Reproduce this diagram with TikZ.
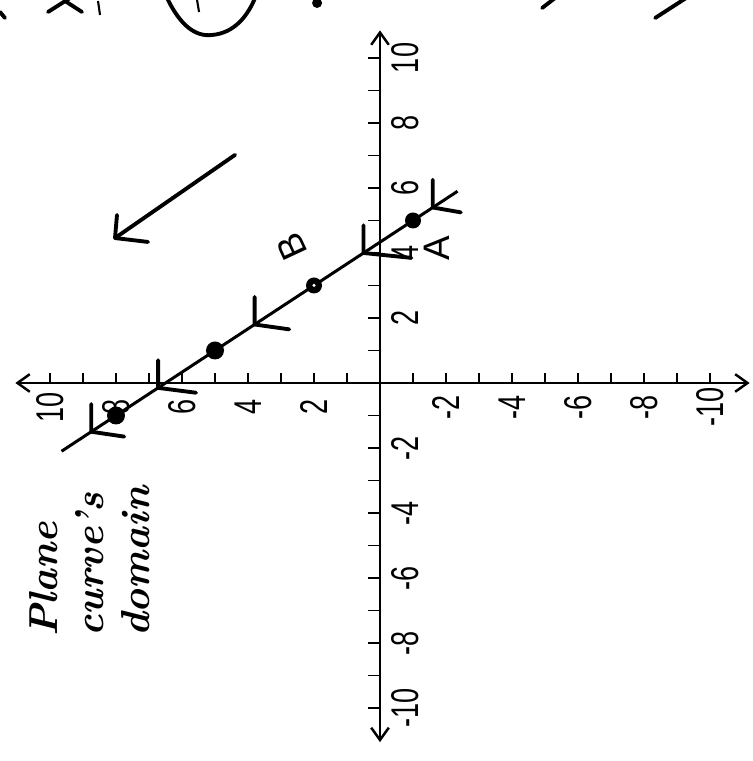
\documentclass[tikz,border=0pt]{standalone}
\usepackage{fontspec}
\usepackage{graphicx}
\newfontfamily\digitfont{Liberation Sans}
\usetikzlibrary{arrows.meta}

\newcommand{\ticknum}[1]{\scalebox{0.7}[1]{\digitfont\fontsize{22}{22}\selectfont #1}}

\begin{document}
\begin{tikzpicture}[
    axis/.style={line width=1.4pt, {Straight Barb[length=7pt,width=10pt]}-{Straight Barb[length=7pt,width=10pt]}},
    tickmark/.style={line width=1.1pt},
    ticklabel/.style={rotate=90, inner sep=0pt},
    curve/.style={line width=1.7pt},
    hand/.style={line width=2.2pt, line cap=round, line join=round},
    pt/.style={fill=black},
    letter/.style={inner sep=0pt, font=\digitfont\fontsize{21}{21}\selectfont},
    note/.style={rotate=90, align=left, inner sep=0pt, font=\fontsize{23}{26}\selectfont\bfseries\itshape}
]

\useasboundingbox (0,0) rectangle (15.04,15.22);
\clip (0,0) rectangle (15.04,15.22);

% -------------------------
% Graph (drawn upright, page turned a quarter)
% -------------------------
\begin{scope}[shift={(7.6,7.56)}, rotate=90, x=0.65cm, y=0.66cm]

% axes
\draw[axis] (-11.05,0) -- (10.85,0);
\draw[axis] (0,-11.2) -- (0,11.05);

% ticks
\foreach \k in {-10,...,-1,1,2,...,10} {
    \draw[tickmark] (\k,0) -- (\k,0.35);
    \draw[tickmark] (0,\k) -- (0.3,\k);
}

% tick labels
\foreach \k in {-10,-8,-6,-4,-2,2,4,6,8,10} {
    \node[ticklabel] (xl\k) at (\k,-0.75) {\ticknum{\k}};
    \node[ticklabel] (yl\k) at (-0.75,\k) {\ticknum{\k}};
}

% the line
\coordinate (lineA) at (-2.1,9.65);
\coordinate (lineB) at (5.9,-2.35);
\draw[curve] (lineA) -- (lineB);

% orientation marks
\foreach \t/\r in {-1.5/1.0, -0.15/1.15, 1.8/1.05, 4.0/1.45, 5.4/0.85}
    \draw[hand] ({\t+0.85},{6.5-1.5*\t}) -- ({\t},{6.5-1.5*\t}) -- ({\t-0.15},{6.5-1.5*\t-\r});

% points
\coordinate (P1) at (-1,8);
\coordinate (P2) at (1,5);
\coordinate (P3) at (3,2);
\coordinate (P4) at (5,-1);
\fill[pt] (P1) circle (0.18cm);
\fill[pt] (P2) circle (0.18cm);
\fill[pt] (P3) circle (0.16cm);
\fill[white] (P3) circle (0.035cm);
\fill[pt] (P4) circle (0.16cm);

% labels
\node[letter, rotate=90] (labA) at (4.15,-1.73) {A};
\node[letter, rotate=115] (labB) at (4.18,2.67) {B};

% long arrow
\coordinate (arrowtail) at (7.02,4.39);
\coordinate (arrowtip) at (4.46,8.03);
\draw[hand] (arrowtail) -- (arrowtip);
\draw[hand] (5.17,7.97) -- (arrowtip) -- (4.34,7.03);

% note
\node[note] (domain) at (-5.5,8.8) {Plane\\curve's\\domain};

\end{scope}

% -------------------------
% Cut-off writing along the top edge
% -------------------------
\begin{scope}[shift={(0,15.22)}, x=0.02cm, y=-0.02cm]
\draw[hand] (0,12) -- (5,18);
\draw[hand] (48,12) -- (70,-2);
\draw[hand] (65,1) -- (82,12);
\draw[line width=1.2pt] (98,1) -- (100,15);
\draw[hand] (167,-2) .. controls (180,25) and (195,37) .. (212,35) .. controls (235,33) and (248,15) .. (255,-2);
\draw[line width=1.2pt] (197,0) -- (199,12);
\fill (317,3) circle (5);
\draw[hand] (542,8) -- (555,-2);
\draw[hand] (655,18) -- (686,-2);
\end{scope}

\end{tikzpicture}
\end{document}
